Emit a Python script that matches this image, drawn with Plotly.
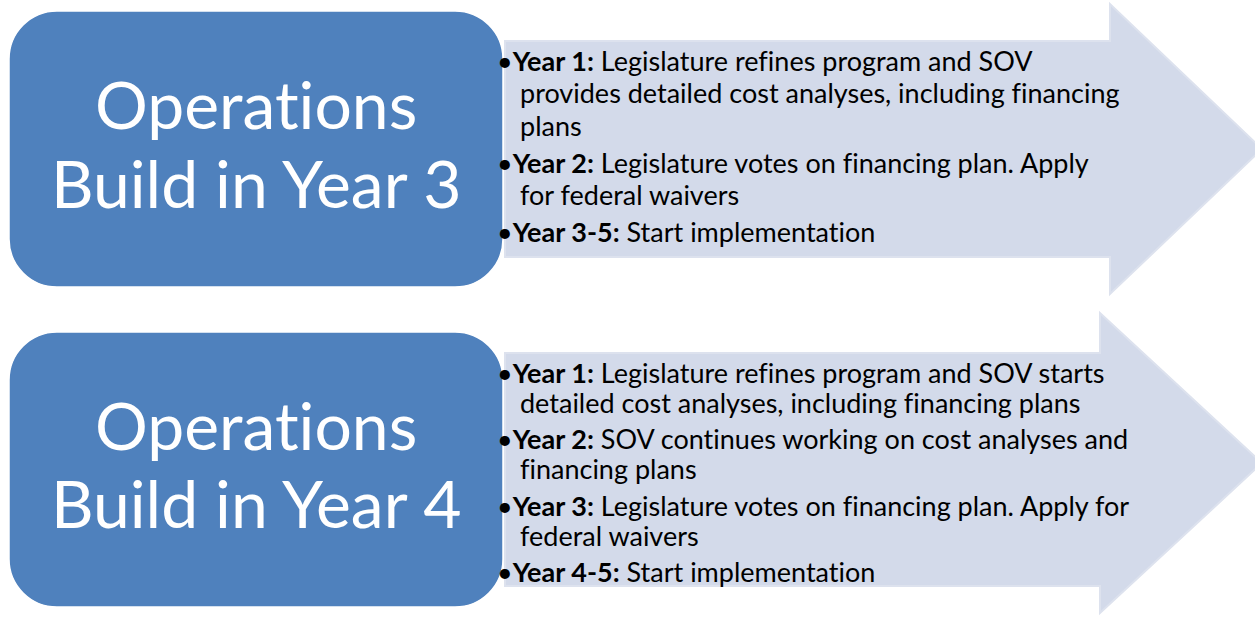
import plotly.graph_objects as go

# ---- content ----
box_titles = [["Operations", "Build in Year 3"], ["Operations", "Build in Year 4"]]

panel1_labels = ["Year 1:", "Year 2:", "Year 3-5:"]
panel1_lines = [
    ["Legislature refines program and SOV", "provides detailed cost analyses, including financing", "plans"],
    ["Legislature votes on financing plan. Apply", "for federal waivers"],
    ["Start implementation"],
]
panel2_labels = ["Year 1:", "Year 2:", "Year 3:", "Year 4-5:"]
panel2_lines = [
    ["Legislature refines program and SOV starts", "detailed cost analyses, including financing plans"],
    ["SOV continues working on cost analyses and", "financing plans"],
    ["Legislature votes on financing plan. Apply for", "federal waivers"],
    ["Start implementation"],
]

W, H = 1255, 624
BOX_BLUE = "#4F81BD"
ARROW_FILL = "#D3DAEA"
ARROW_EDGE = "#DDE2EE"
FONT = "Lato"


def nolig(s):
    # break the "ti"/"fi" ligatures of the font
    return s.replace("ti", "t\u200ci").replace("fi", "f\u200ci").replace("fl", "f\u200cl")


fig = go.Figure()


def rrect(x0, y0, x1, y1, r):
    k = 0.5523 * r
    return (f"M {x0+r},{y0} L {x1-r},{y0} C {x1-r+k},{y0} {x1},{y0+r-k} {x1},{y0+r} "
            f"L {x1},{y1-r} C {x1},{y1-r+k} {x1-r+k},{y1} {x1-r},{y1} "
            f"L {x0+r},{y1} C {x0+r-k},{y1} {x0},{y1-r+k} {x0},{y1-r} "
            f"L {x0},{y0+r} C {x0},{y0+r-k} {x0+r-k},{y0} {x0+r},{y0} Z")


def arrow(x0, by0, by1, hx, hy0, hy1, tipx, tipy):
    return (f"M {x0},{by0} L {hx},{by0} L {hx},{hy0} L {tipx},{tipy} "
            f"L {hx},{hy1} L {hx},{by1} L {x0},{by1} Z")


panels = [
    dict(box=(9, 11, 503, 287), arrow=(505, 41, 257, 1110, 4, 294, 1262, 149),
         title_y=(103, 182), labels=panel1_labels, lines=panel1_lines,
         start=60, step=32.5, pstep=37, title=box_titles[0]),
    dict(box=(9, 332, 503, 607), arrow=(505, 353, 586, 1100, 313, 613, 1262, 463),
         title_y=(424, 502), labels=panel2_labels, lines=panel2_lines,
         start=372, step=30, pstep=36.5, title=box_titles[1]),
]

for p in panels:
    fig.add_shape(type="path", path=arrow(*p["arrow"]), fillcolor=ARROW_FILL,
                  line=dict(color=ARROW_EDGE, width=2), layer="below")
    x0, y0, x1, y1 = p["box"]
    fig.add_shape(type="path", path=rrect(x0, y0, x1, y1, 48), fillcolor=BOX_BLUE,
                  line=dict(color="white", width=1.5), layer="below")
    cx = (x0 + x1) / 2
    for t, ty in zip(p["title"], p["title_y"]):
        fig.add_annotation(x=cx, y=ty, text=nolig(t), showarrow=False, xanchor="center",
                           yanchor="middle", font=dict(family=FONT, size=66, color="white"))
    y = p["start"]
    first = True
    for lab, lines in zip(p["labels"], p["lines"]):
        if not first:
            y += p["pstep"] - p["step"]
        first = False
        for i, ln in enumerate(lines):
            if i == 0:
                txt = f"•<b>{lab}</b> {nolig(ln)}"
                xx = 495
            else:
                txt = nolig(ln)
                xx = 518
            fig.add_annotation(x=xx, y=y, text=txt, showarrow=False, xanchor="left",
                               yanchor="middle", font=dict(family=FONT, size=27, color="black"))
            y += p["step"]

fig.update_xaxes(range=[0, W], visible=False, fixedrange=True)
fig.update_yaxes(range=[H, 0], visible=False, fixedrange=True)
fig.update_layout(width=W, height=H, margin=dict(l=0, r=0, t=0, b=0),
                  paper_bgcolor="white", plot_bgcolor="white", showlegend=False)
fig.write_html("out.html", config={"displayModeBar": False},
               post_script="document.body.style.margin='0px';document.body.style.overflow='hidden';")
